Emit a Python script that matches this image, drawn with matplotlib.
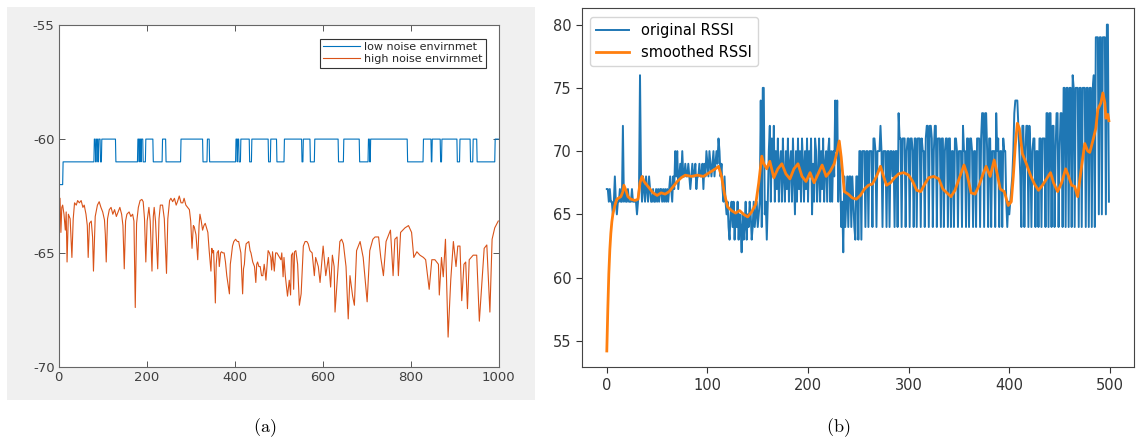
import numpy as np
import matplotlib
matplotlib.use('Agg')
import matplotlib.pyplot as plt
from matplotlib.patches import Rectangle

plt.rcParams['axes.unicode_minus'] = False
plt.rcParams['mathtext.fontset'] = 'cm'

# ---- panel (a): low noise environment, runs at -60 dBm (start, end sample)
low_hi_start = [81, 86, 91, 98, 180, 184, 188, 198, 236, 278, 338, 403, 407, 414, 439, 482,
                513, 556, 582, 648, 704, 709, 829, 849, 871, 912, 942, 992]
low_hi_end = [83, 88, 94, 129, 182, 186, 191, 214, 243, 327, 342, 405, 409, 433, 476, 495,
              552, 571, 635, 683, 706, 792, 846, 867, 905, 935, 950, 999]
low_base = -61.0
low_first = [-64.1, -62, -62, -62, -62, -62, -62, -62, -62, -62]

# ---- panel (a): high noise environment (sample, dBm)
high_x = [0, 1, 3, 5, 7, 9, 12, 15, 17, 19, 22, 26, 30, 33, 36, 40, 43, 47, 51, 55, 58, 62, 65, 67,
          70, 74, 77, 79, 83, 88, 92, 96, 100, 104, 106, 108, 111, 115, 119, 123, 127, 131, 135,
          139, 143, 146, 149, 152, 155, 160, 164, 168, 171, 174, 177, 181, 185, 189, 192, 195, 198,
          201, 205, 208, 212, 215, 217, 220, 225, 228, 231, 236, 240, 245, 248, 252, 255, 259, 263,
          267, 270, 274, 278, 282, 285, 289, 293, 297, 300, 303, 306, 308, 312, 316, 319, 321, 324,
          327, 330, 333, 336, 339, 342, 346, 348, 350, 352, 354, 356, 358, 360, 363, 365, 368, 370,
          373, 376, 379, 382, 385, 388, 390, 392, 395, 398, 402, 406, 409, 412, 414, 416, 418, 420,
          422, 424, 426, 429, 432, 435, 437, 441, 445, 448, 450, 452, 455, 458, 461, 464, 467, 469,
          471, 474, 476, 479, 482, 484, 486, 490, 493, 496, 499, 502, 505, 507, 510, 512, 515, 520,
          524, 527, 529, 532, 534, 536, 539, 543, 547, 551, 556, 560, 564, 567, 571, 576, 581, 584,
          590, 594, 601, 607, 613, 618, 622, 626, 628, 633, 639, 643, 647, 653, 658, 662, 668, 672,
          677, 685, 692, 701, 707, 714, 719, 727, 732, 738, 744, 754, 760, 764, 769, 772, 777, 787,
          791, 795, 802, 807, 814, 821, 829, 834, 842, 848, 855, 863, 865, 870, 874, 879, 885, 891,
          897, 903, 907, 912, 916, 921, 925, 929, 933, 942, 950, 956, 960, 967, 973, 980, 985, 991,
          999]
high_y = [-55.0, -62.6, -62.6, -64.1, -63.0, -62.9, -63.3, -64.0, -63.2, -65.4, -63.3, -63.5, -65.2,
          -63.5, -62.8, -62.9, -62.7, -62.8, -62.7, -63.0, -62.9, -63.3, -63.8, -65.2, -63.7, -63.6,
          -64.3, -65.8, -63.4, -62.9, -62.75, -63.0, -63.2, -63.55, -64.2, -65.4, -63.5, -63.1, -63.0,
          -63.3, -63.1, -63.4, -63.2, -63.0, -63.3, -63.8, -65.7, -63.6, -63.3, -63.2, -63.4, -63.3,
          -63.6, -67.4, -63.7, -63.0, -62.7, -62.65, -62.75, -63.5, -65.4, -63.6, -63.0, -63.6, -65.8,
          -63.4, -63.0, -63.6, -65.7, -63.5, -62.9, -62.9, -63.5, -65.9, -63.5, -62.7, -62.6, -62.75,
          -62.6, -62.9, -62.75, -62.5, -62.8, -62.8, -62.6, -62.9, -63.0, -63.1, -63.6, -64.8, -63.8,
          -63.85, -64.2, -65.3, -63.8, -63.3, -63.6, -64.0, -63.8, -63.7, -63.9, -64.1, -64.9, -65.8,
          -64.8, -65.0, -64.9, -65.9, -67.2, -65.5, -65.0, -64.9, -65.6, -65.0, -64.95, -65.0, -65.0,
          -65.4, -66.0, -66.4, -66.8, -65.5, -65.2, -64.7, -64.5, -64.4, -64.5, -64.5, -64.8, -65.0,
          -65.9, -66.8, -65.7, -65.5, -64.9, -64.6, -64.55, -64.5, -64.9, -65.0, -65.4, -65.6, -66.3,
          -65.5, -65.4, -65.6, -65.6, -66.0, -66.0, -65.5, -65.8, -66.2, -65.4, -64.9, -65.0, -65.2,
          -65.75, -64.95, -65.8, -65.0, -65.0, -65.1, -65.2, -65.3, -65.0, -66.05, -65.2, -66.0, -66.9,
          -66.2, -66.85, -65.1, -65.0, -66.6, -64.95, -64.9, -65.5, -67.3, -66.8, -64.7, -64.5, -64.5,
          -64.6, -64.9, -65.0, -66.0, -65.2, -65.6, -66.3, -64.7, -66.0, -65.2, -66.5, -65.1, -65.6,
          -67.6, -66.2, -64.5, -64.4, -64.6, -65.6, -67.9, -66.0, -66.9, -67.3, -64.9, -64.5, -65.2,
          -67.15, -64.9, -64.4, -64.3, -64.3, -65.2, -66.0, -64.5, -64.0, -66.0, -64.4, -64.3, -66.0,
          -64.1, -63.9, -63.85, -63.8, -64.1, -65.2, -64.95, -65.1, -65.2, -65.3, -66.6, -65.3, -65.3,
          -65.5, -66.85, -65.2, -66.05, -64.4, -68.7, -66.2, -64.5, -65.6, -64.7, -64.7, -67.1, -65.5,
          -65.4, -67.45, -65.3, -65.1, -65.1, -68.0, -66.85, -64.8, -64.65, -67.6, -64.4, -63.9, -63.6]

# ---- panel (b): original RSSI, one value per sample
rssi = [67, 67, 66, 67, 66, 66, 65, 66, 68, 66, 65, 66, 66, 67, 66, 66, 72, 66, 67, 66,
        66, 67, 66, 66, 66, 67, 66, 66, 66, 66, 65, 66, 67, 76, 68, 66, 68, 67, 66, 68,
        67, 66, 68, 67, 66, 66, 67, 66, 66, 67, 66, 67, 66, 67, 67, 66, 67, 66, 67, 66,
        67, 66, 67, 68, 67, 66, 68, 67, 70, 68, 70, 67, 68, 69, 68, 70, 68, 68, 69, 68,
        68, 69, 68, 67, 68, 69, 68, 68, 69, 67, 68, 68, 69, 68, 68, 69, 67, 69, 68, 70,
        69, 68, 70, 69, 68, 69, 70, 68, 69, 70, 69, 71, 70, 68, 69, 67, 66, 68, 66, 65,
        66, 64, 63, 65, 66, 64, 66, 63, 65, 64, 66, 63, 65, 64, 62, 65, 63, 64, 66, 63,
        65, 64, 66, 65, 63, 64, 66, 64, 65, 66, 64, 65, 66, 74, 64, 75, 75, 65, 66, 63,
        66, 70, 72, 66, 71, 68, 72, 66, 70, 67, 71, 66, 69, 70, 66, 71, 68, 66, 70, 67,
        71, 66, 69, 70, 66, 71, 68, 65, 70, 66, 71, 67, 70, 66, 71, 69, 66, 70, 67, 71,
        66, 70, 68, 71, 65, 69, 66, 71, 70, 66, 68, 71, 66, 70, 67, 71, 66, 69, 70, 66,
        70, 71, 66, 70, 66, 70, 68, 74, 70, 74, 66, 70, 68, 64, 66, 62, 68, 64, 66, 68,
        64, 68, 68, 64, 68, 66, 64, 63, 68, 68, 63, 70, 70, 63, 70, 70, 70, 64, 70, 70,
        64, 70, 70, 70, 64, 71, 71, 70, 64, 70, 70, 70, 72, 70, 64, 70, 70, 70, 64, 70,
        70, 64, 70, 70, 68, 70, 64, 70, 70, 64, 73, 71, 71, 64, 71, 71, 71, 64, 70, 71,
        71, 64, 71, 71, 70, 64, 71, 71, 64, 71, 71, 71, 64, 71, 70, 70, 64, 71, 72, 72,
        64, 72, 72, 71, 64, 70, 72, 72, 64, 71, 71, 71, 64, 71, 71, 64, 70, 71, 71, 64,
        71, 71, 64, 70, 70, 64, 71, 71, 70, 64, 70, 70, 70, 64, 72, 70, 70, 64, 71, 71,
        64, 71, 71, 70, 64, 70, 70, 64, 71, 71, 71, 64, 71, 73, 73, 64, 73, 73, 70, 64,
        71, 71, 64, 70, 70, 70, 64, 73, 70, 71, 64, 70, 70, 64, 71, 70, 70, 66, 64, 66,
        65, 66, 67, 68, 70, 73, 74, 74, 74, 72, 70, 68, 64, 72, 72, 64, 70, 72, 72, 64,
        72, 70, 64, 70, 71, 71, 64, 70, 70, 64, 71, 71, 64, 71, 71, 71, 64, 73, 73, 64,
        73, 73, 64, 72, 72, 64, 70, 73, 73, 64, 70, 73, 73, 64, 75, 75, 64, 75, 75, 64,
        75, 75, 64, 76, 75, 64, 75, 75, 75, 64, 75, 75, 64, 75, 75, 75, 64, 75, 75, 64,
        75, 75, 64, 75, 76, 64, 79, 79, 79, 65, 79, 79, 65, 79, 79, 79, 65, 80, 80, 66]

# ---- panel (b): smoothed RSSI
smooth_x = [0, 1, 2, 3, 4, 5, 6, 8, 10, 12, 14, 16, 17, 19, 21, 24, 28, 31, 33, 35, 37, 40, 43, 46,
            50, 54, 58, 62, 66, 70, 74, 78, 84, 90, 96, 100, 104, 108, 111, 114, 117, 120, 124, 128,
            132, 136, 140, 144, 148, 151, 154, 156, 159, 162, 166, 170, 174, 178, 182, 186, 190, 194,
            198, 202, 206, 210, 214, 218, 222, 226, 229, 231, 233, 236, 240, 244, 248, 252, 256, 260,
            264, 268, 272, 275, 278, 282, 286, 290, 295, 300, 304, 308, 312, 316, 320, 325, 330, 334,
            338, 342, 346, 350, 355, 358, 362, 366, 370, 374, 377, 381, 385, 388, 391, 395, 399, 402,
            404, 406, 408, 410, 413, 417, 421, 425, 429, 433, 437, 441, 444, 448, 452, 456, 459, 462,
            465, 468, 471, 475, 478, 480, 483, 486, 488, 491, 493, 495, 496, 498, 499]
smooth_y = [54.2, 57.5, 60.3, 62.2, 63.5, 64.4, 65.0, 65.7, 66.2, 66.3, 66.4, 66.8, 67.3, 66.9, 66.4,
            66.2, 66.1, 66.2, 67.5, 68.0, 67.6, 67.3, 67.0, 66.7, 66.5, 66.7, 66.6, 66.8, 67.2, 67.6,
            67.9, 68.1, 68.0, 68.1, 68.0, 68.2, 68.4, 68.6, 68.8, 68.0, 66.6, 65.6, 65.3, 65.1, 65.3,
            65.0, 64.8, 65.2, 65.8, 67.5, 69.6, 69.0, 68.6, 69.2, 67.9, 68.6, 69.0, 68.2, 67.8, 68.6,
            69.0, 68.0, 67.6, 68.3, 67.5, 68.2, 68.9, 68.0, 68.4, 69.0, 70.0, 70.8, 69.5, 66.8, 66.6,
            66.3, 66.2, 66.5, 67.0, 67.3, 67.4, 68.0, 68.8, 68.0, 67.3, 67.5, 67.9, 68.2, 68.3, 68.1,
            67.6, 66.9, 66.8, 67.4, 67.9, 68.0, 67.8, 67.0, 66.7, 66.4, 66.9, 67.8, 68.9, 68.2, 66.7,
            66.6, 67.3, 68.2, 68.8, 68.0, 69.3, 68.2, 67.0, 66.8, 65.7, 66.0, 68.0, 70.5, 72.2, 71.8,
            69.8, 69.0, 68.1, 67.4, 66.9, 67.3, 67.8, 68.3, 67.5, 66.8, 67.5, 68.6, 68.0, 67.3, 67.2,
            66.4, 68.3, 70.6, 70.0, 69.9, 70.8, 71.8, 73.3, 73.8, 74.6, 73.8, 72.6, 72.9, 72.4]

low_noise = np.full(1000, low_base)
low_noise[:len(low_first)] = low_first
for s, e in zip(low_hi_start, low_hi_end):
    low_noise[s:e + 1] = -60.0

fig = plt.figure(figsize=(11.36, 4.43), dpi=100)

# matlab-style grey figure background behind panel (a)
fig.patches.append(Rectangle((7 / 1136, 43 / 443), 528 / 1136, 393 / 443,
                             transform=fig.transFigure, facecolor='#f0f0f0',
                             edgecolor='none', zorder=-5))

ax1 = fig.add_axes([58.7 / 1136, 76.3 / 443, 440 / 1136, 341.4 / 443])
ax1.set_zorder(2)
ax1.plot(np.arange(1000), low_noise, color='#0072BD', lw=0.8, label='low noise envirnmet')
ax1.plot(high_x, high_y, color='#D95319', lw=0.8, label='high noise envirnmet')
ax1.set_xlim(0, 1000)
ax1.set_ylim(-70, -55)
ax1.set_xticks([0, 200, 400, 600, 800, 1000])
ax1.set_yticks([-70, -65, -60, -55])
ax1.tick_params(direction='in', top=True, right=True, length=4, width=0.7,
                colors='#555555', labelcolor='#404040', labelsize=9.5, pad=3)
for sp in ax1.spines.values():
    sp.set_color('#666666')
    sp.set_linewidth(0.8)
leg1 = ax1.legend(loc='upper right', bbox_to_anchor=(486 / 1136, 1 - 38.7 / 443),
                  bbox_transform=fig.transFigure, borderaxespad=0, fontsize=8,
                  fancybox=False, framealpha=1, edgecolor='#333333', handlelength=3.3,
                  handletextpad=0.4, borderpad=0.3, labelspacing=0.2)
leg1.get_frame().set_linewidth(0.8)
for t in leg1.get_texts():
    t.set_color('#262626')

ax2 = fig.add_axes([581.7 / 1136, 75.7 / 443, 552.3 / 1136, 359 / 443])
ax2.set_zorder(2)
ax2.plot(np.arange(len(rssi)), rssi, color='#1f77b4', lw=1.4, label='original RSSI')
ax2.plot(smooth_x, smooth_y, color='#ff7f0e', lw=2.0, label='smoothed RSSI')
ax2.set_yticks([55, 60, 65, 70, 75, 80])
ax2.set_xticks([0, 100, 200, 300, 400, 500])
ax2.tick_params(labelsize=10.5, colors='#333333', length=4)
for sp in ax2.spines.values():
    sp.set_color('#444444')
ax2.legend(loc='upper left', bbox_to_anchor=(590 / 1136, 1 - 17 / 443),
           bbox_transform=fig.transFigure, borderaxespad=0, fontsize=10.5, handlelength=2.3)

fig.text(265 / 1136, 1 - 428 / 443, r'$\mathrm{(a)}$', ha='center', va='center', fontsize=13)
fig.text(838 / 1136, 1 - 428 / 443, r'$\mathrm{(b)}$', ha='center', va='center', fontsize=13)

fig.savefig('out.png', dpi=100)
